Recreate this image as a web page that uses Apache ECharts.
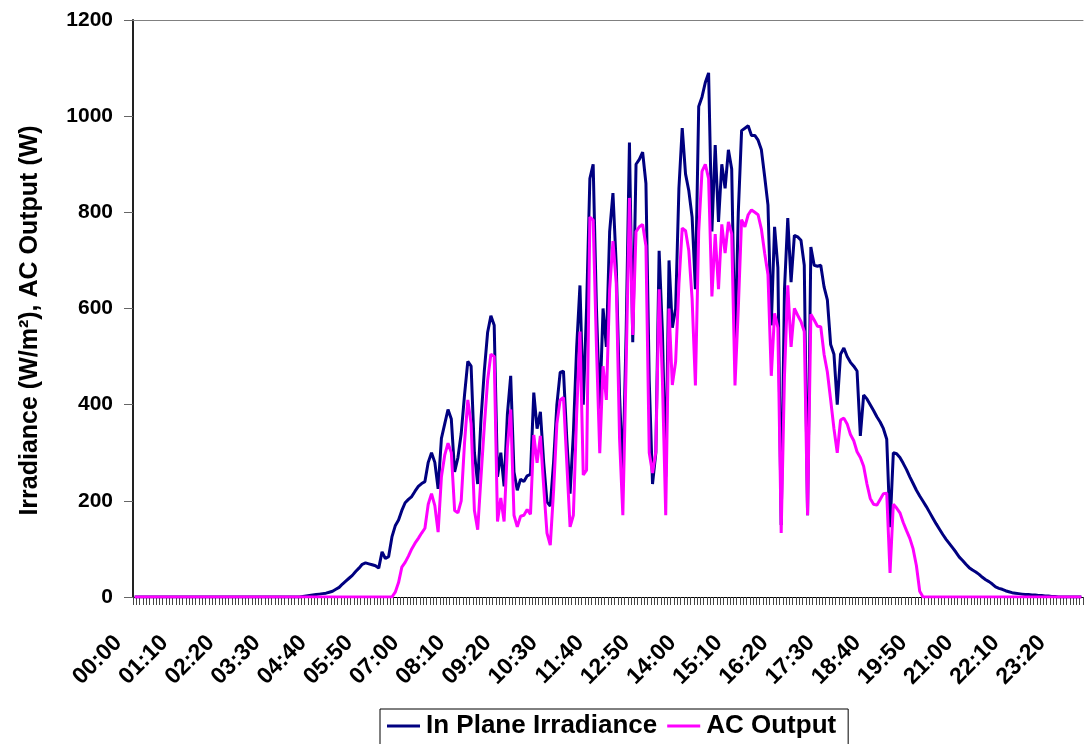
<!DOCTYPE html>
<html>
<head>
<meta charset="utf-8">
<title>Irradiance and AC Output</title>
<script src="https://cdn.jsdelivr.net/npm/echarts@6/dist/echarts.min.js"></script>
<style>
  html, body { margin: 0; padding: 0; background: #fff; }
  #chart { width: 1085px; height: 744px; }
</style>
</head>
<body>
<div id="chart"></div>
<script>
// 5-minute slots over the day, 00:00 .. 23:55
const times = []
for (let m = 0; m < 24 * 60; m += 5) {
  times.push(String(Math.floor(m / 60)).padStart(2, '0') + ':' + String(m % 60).padStart(2, '0'))
}

// In Plane Irradiance (W/m2), one value per slot
const irradiance = [
  0, 0, 0, 0, 0, 0, 0, 0, 0, 0, 0, 0, 0, 0, 0, 0, 0, 0, 0, 0,
  0, 0, 0, 0, 0, 0, 0, 0, 0, 0, 0, 0, 0, 0, 0, 0, 0, 0, 0, 0,
  0, 0, 0, 0, 0, 0, 0, 0, 0, 0, 0,
  1, 2, 3, 4, 5, 6, 7, 8, 10, 12,
  16, 20, 27, 33, 39, 45, 53, 60, 68, 71,
  69, 67, 65, 60, 94, 80, 84, 125, 148, 160,
  180, 196, 203, 209, 220, 230, 236, 240, 280, 300,
  280, 225, 330, 360, 390, 370, 260, 290, 340, 420,
  490, 480, 300, 235, 370, 470, 550, 585, 565, 250,
  300, 230, 380, 460, 260, 222, 245, 240, 252, 255,
  425, 350, 385, 280, 198, 189, 280, 400, 467, 470,
  330, 215, 340, 520, 648, 400, 600, 870, 900, 600,
  390, 600, 520, 760, 840, 690, 420, 250, 550, 945,
  530, 900, 910, 925, 860, 450, 235, 300, 720, 550,
  250, 700, 560, 600, 850, 975, 880, 845, 790, 640,
  1020, 1040, 1070, 1090, 760, 940, 780, 900, 850, 930,
  890, 510, 800, 970, 975, 980, 960, 960, 950, 930,
  874, 815, 565, 770, 685, 150, 640, 788, 655, 752,
  749, 742, 690, 170, 728, 690, 688, 690, 645, 618,
  525, 505, 400, 505, 518, 500, 488, 480, 470, 335,
  420, 412, 400, 388, 375, 364, 350, 328, 145, 300,
  298, 290, 278, 265, 250, 236, 222, 210, 199, 188,
  176, 164, 152, 141, 130, 120, 111, 102, 93, 83,
  76, 68, 61, 56, 52, 47, 41, 36, 32, 27,
  21, 18, 16, 13, 11, 9, 8, 7, 6, 5,
  5, 4, 4, 3, 3, 2, 2, 1, 1, 0,
  0, 0, 0, 0, 0, 0, 0
]

// AC Output (W), one value per slot
const acOutput = [
  0, 0, 0, 0, 0, 0, 0, 0, 0, 0, 0, 0, 0, 0, 0, 0, 0, 0, 0, 0,
  0, 0, 0, 0, 0, 0, 0, 0, 0, 0, 0, 0, 0, 0, 0, 0, 0, 0, 0, 0,
  0, 0, 0, 0, 0, 0, 0, 0, 0, 0, 0, 0, 0, 0, 0, 0, 0, 0, 0, 0,
  0, 0, 0, 0, 0, 0, 0, 0, 0, 0,
  0, 0, 0, 0, 0, 0, 0, 0, 0, 10,
  30, 62, 72, 85, 100, 112, 122, 133, 143, 193,
  215, 190, 135, 250, 295, 320, 300, 180, 175, 200,
  320, 410, 360, 180, 140, 250, 355, 450, 505, 500,
  157, 206, 157, 310, 390, 170, 146, 168, 170, 182,
  172, 337, 279, 335, 230, 133, 108, 220, 360, 410,
  415, 280, 146, 170, 380, 552, 254, 264, 790, 784,
  520, 299, 480, 410, 640, 740, 653, 330, 170, 480,
  830, 545, 760, 770, 775, 730, 300, 258, 302, 640,
  450, 170, 600, 441, 489, 650, 767, 762, 720, 620,
  440, 760, 885, 900, 870, 625, 755, 640, 775, 715,
  780, 755, 440, 600, 785, 770, 795, 805, 800, 795,
  765, 715, 670, 460, 590, 560, 133, 460, 648, 520,
  600, 586, 573, 552, 170, 588, 576, 563, 562, 505,
  468, 410, 350, 300, 368, 372, 360, 338, 325, 302,
  290, 272, 235, 205, 193, 191, 203, 215, 216, 50,
  193, 185, 175, 155, 138, 122, 100, 65, 12, 0,
  0, 0, 0, 0, 0, 0, 0, 0, 0, 0, 0, 0, 0, 0, 0, 0,
  0, 0, 0, 0, 0, 0, 0, 0, 0, 0, 0, 0, 0, 0, 0, 0,
  0, 0, 0, 0, 0, 0, 0, 0, 0, 0, 0, 0, 0, 0, 0, 0
]

const font = '"Liberation Sans", Arial, sans-serif'

const chart = echarts.init(document.getElementById('chart'), null, { renderer: 'canvas' })
chart.setOption({
  animation: false,
  backgroundColor: '#fff',
  textStyle: { fontFamily: font },
  grid: { left: 133, right: 2, top: 20, bottom: 147, containLabel: false },
  legend: {
    left: 380,
    top: 709,
    padding: [4, 12, 10, 7],
    itemGap: 10,
    itemWidth: 33,
    itemHeight: 3,
    icon: 'rect',
    borderColor: '#000',
    borderWidth: 1,
    textStyle: { fontFamily: font, fontSize: 26, fontWeight: 'bold', color: '#000', padding: [0, 0, 0, 1] },
    data: ['In Plane Irradiance', 'AC Output']
  },
  xAxis: [{
    type: 'category',
    data: times,
    boundaryGap: true,
    axisLine: { lineStyle: { color: '#000', width: 1 } },
    axisTick: { show: true, interval: 0, length: 8, lineStyle: { color: '#444' } },
    axisLabel: {
      interval: 13,
      rotate: 45,
      margin: 26,
      padding: [0, 23, 0, 0],
      fontFamily: font,
      fontSize: 23,
      fontWeight: 'bold',
      color: '#000'
    },
    splitLine: { show: false }
  }, {
    // plain top border of the plot area
    type: 'category',
    position: 'top',
    data: times,
    axisLine: { show: true, lineStyle: { color: '#808080', width: 1 } },
    axisTick: { show: false },
    axisLabel: { show: false }
  }],
  yAxis: {
    type: 'value',
    min: 0,
    max: 1200,
    interval: 200,
    name: 'Irradiance (W/m²), AC Output (W)',
    nameLocation: 'middle',
    nameGap: 90,
    nameTextStyle: {
      fontFamily: font,
      fontSize: 25,
      fontWeight: 'bold',
      color: '#000',
      padding: [0, 24, 0, 0]
    },
    axisLine: { show: true, lineStyle: { color: '#222', width: 2 } },
    axisTick: { show: true, length: 9, lineStyle: { color: '#666' } },
    axisLabel: {
      margin: 20,
      fontFamily: font,
      fontSize: 21,
      fontWeight: 'bold',
      color: '#000',
      formatter: v => String(v)
    },
    splitLine: { show: false }
  },
  series: [
    {
      name: 'In Plane Irradiance',
      type: 'line',
      data: irradiance,
      symbol: 'none',
      lineStyle: { color: '#000080', width: 3 },
      itemStyle: { color: '#000080' },
      z: 2
    },
    {
      name: 'AC Output',
      type: 'line',
      data: acOutput,
      symbol: 'none',
      lineStyle: { color: '#FF00FF', width: 3 },
      itemStyle: { color: '#FF00FF' },
      z: 3
    }
  ]
})
</script>
</body>
</html>
